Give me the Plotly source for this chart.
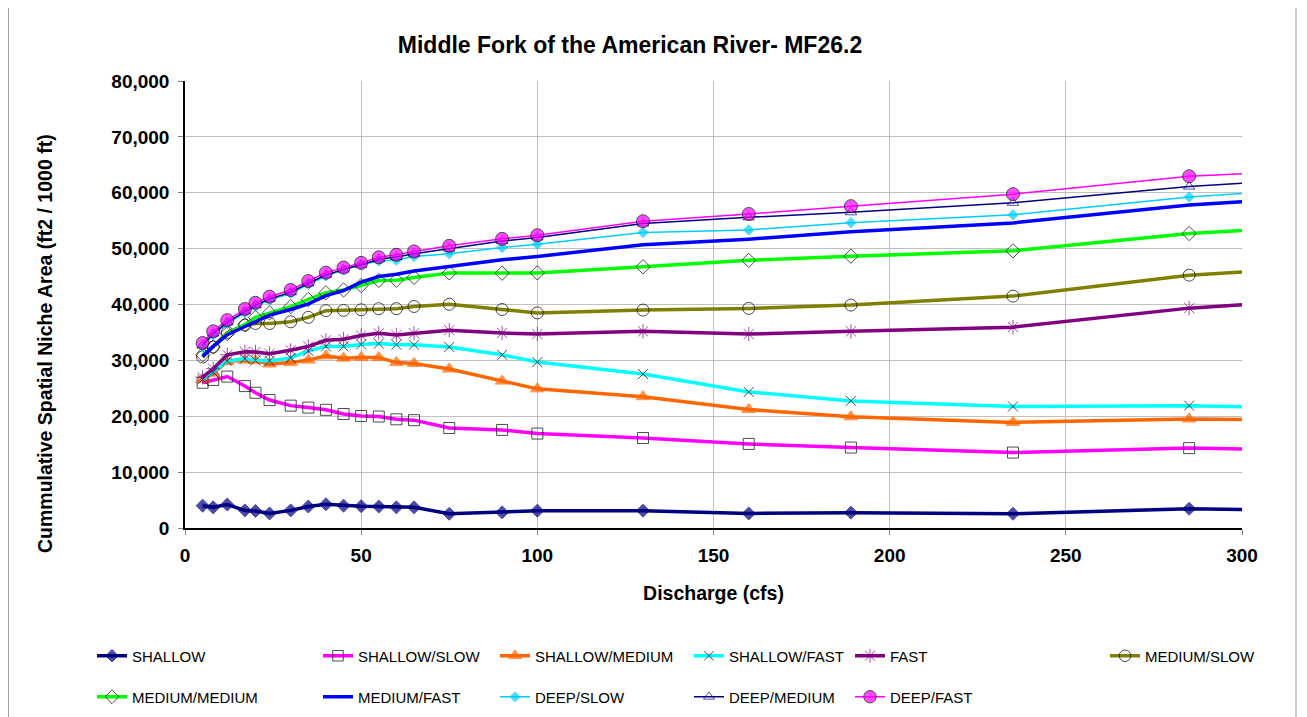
import plotly.graph_objects as go

# discharge (cfs); last value is where the lines meet the right edge of the plot
discharge = [5, 8, 12, 17, 20, 24, 30, 35, 40, 45, 50, 55, 60, 65, 75, 90, 100,
             130, 160, 189, 235, 285, 300]

shallow = [4000, 3700, 4200, 3150, 3050, 2600, 3150, 3850, 4250, 4000, 3900, 3850,
           3700, 3700, 2550, 2800, 3100, 3100, 2600, 2750, 2550, 3450, 3300]
shallow_slow = [26000, 26500, 27100, 25400, 24200, 22900, 21900, 21550, 21150, 20400,
                20050, 19950, 19450, 19300, 17900, 17550, 16900, 16100, 15050, 14400,
                13500, 14300, 14150]
shallow_medium = [26600, 27700, 29800, 30050, 29950, 29350, 29600, 30050, 30800, 30400,
                  30500, 30500, 29600, 29450, 28450, 26300, 24900, 23500, 21200, 19900,
                  18900, 19500, 19400]
shallow_fast = [26600, 27900, 29900, 30300, 30000, 29900, 30450, 31700, 32500, 32500,
                32850, 33000, 32800, 32800, 32400, 31000, 29700, 27550, 24350, 22750,
                21750, 21900, 21700]
fast = [27000, 28500, 31000, 31550, 31500, 31200, 31800, 32500, 33600, 33800, 34450,
        34850, 34550, 34850, 35400, 34900, 34700, 35200, 34700, 35200, 35950, 39350,
        39950]
medium_slow = [30600, 32400, 35000, 36300, 36600, 36600, 36900, 37700, 38900, 38950,
               39050, 39250, 39250, 39650, 40050, 39100, 38500, 39000, 39300, 39900,
               41500, 45250, 45800]
medium_medium = [31000, 32400, 34800, 36400, 37700, 38500, 39600, 40900, 42100, 42600,
                 43400, 44300, 44350, 44850, 45650, 45600, 45650, 46750, 47900, 48650,
                 49600, 52700, 53250]
medium_fast = [30700, 32500, 34600, 36100, 37000, 38100, 39100, 40100, 41600, 42500,
               44000, 45000, 45400, 46000, 46800, 48000, 48600, 50700, 51700, 53000,
               54600, 57800, 58400]
deep_slow = [32500, 34600, 36600, 38600, 39700, 40800, 42000, 43600, 45100, 46250,
             47150, 47800, 47950, 48600, 49100, 50200, 50800, 52900, 53350, 54650,
             56050, 59250, 59850]
deep_medium = [32700, 34800, 36800, 38800, 39900, 41000, 42200, 43800, 45300, 46250,
               47100, 48100, 48500, 49100, 50000, 51350, 52000, 54500, 55600, 56500,
               58200, 61100, 61700]
deep_fast = [33100, 35200, 37200, 39200, 40300, 41400, 42600, 44200, 45700, 46600,
             47450, 48450, 48900, 49500, 50500, 51750, 52400, 54900, 56200, 57600,
             59750, 62950, 63400]

FONT = "Arial, Liberation Sans, sans-serif"

# name, values, line colour, line width, marker symbol, marker size, fill, outline
series = [
    ("SHALLOW", shallow, "#000080", 3.5, "diamond", 10, "#000080", "#000080"),
    ("SHALLOW/SLOW", shallow_slow, "#FF00FF", 3.5, "square-open", 11, "#000000", "#000000"),
    ("SHALLOW/MEDIUM", shallow_medium, "#FF6600", 3.5, "triangle-up", 12, "#FF6600", "#FF6600"),
    ("SHALLOW/FAST", shallow_fast, "#00FFFF", 3.5, "x-thin-open", 10, "#000000", "#000000"),
    ("FAST", fast, "#800080", 3.5, "asterisk-open", 12, "#800080", "#800080"),
    ("MEDIUM/SLOW", medium_slow, "#808000", 3.5, "circle-open", 12, "#000000", "#000000"),
    ("MEDIUM/MEDIUM", medium_medium, "#00FF00", 3.5, "diamond-open", 11, "#000000", "#000000"),
    ("MEDIUM/FAST", medium_fast, "#0000FF", 3.5, None, 0, "#0000FF", "#0000FF"),
    ("DEEP/SLOW", deep_slow, "#00CCFF", 1.5, "diamond", 8, "#00CCFF", "#00CCFF"),
    ("DEEP/MEDIUM", deep_medium, "#000080", 1.5, "triangle-up-open", 10, "#000080", "#000080"),
    ("DEEP/FAST", deep_fast, "#FF00FF", 1.5, "circle", 13, "#FF00FF", "#000000"),
]

# the page body adds an 8px margin, so the figure is 8px smaller and shifted
W, H = 1299, 709
plot_l, plot_r, plot_t, plot_b = 177, 1234, 73, 520
legend_cols = [89, 315, 492, 686, 847, 1102]
legend_rows = [648, 689]

fig = go.Figure()
layout_legends = {}
for i, (name, vals, color, width, symbol, msize, mfill, mline) in enumerate(series):
    key = "legend" if i == 0 else f"legend{i + 1}"
    sizes = [msize] * (len(vals) - 1) + [0]
    mode = "lines" if symbol is None else "lines+markers"
    fig.add_trace(go.Scatter(
        x=discharge,
        y=vals,
        mode=mode,
        name=name,
        legend=key,
        line=dict(color=color, width=width),
        marker=dict(symbol=symbol or "circle", size=sizes, color=mfill,
                    line=dict(color=mline, width=1)),
    ))
    col = legend_cols[i % 6]
    row = legend_rows[i // 6]
    layout_legends[key] = dict(
        x=(col - 5 - plot_l) / (plot_r - plot_l),
        y=(plot_b - row) / (plot_b - plot_t),
        xanchor="left",
        yanchor="middle",
        bgcolor="rgba(0,0,0,0)",
        font=dict(family=FONT, size=15, color="#000000"),
        itemwidth=30,
    )

fig.update_layout(
    width=W,
    height=H,
    margin=dict(l=plot_l, r=W - plot_r, t=plot_t, b=H - plot_b, autoexpand=False),
    paper_bgcolor="white",
    plot_bgcolor="white",
    showlegend=True,
    title=dict(
        text="<b>Middle Fork of the American River- MF26.2</b>",
        x=622 / W,
        xanchor="center",
        y=1 - 37 / H,
        yanchor="middle",
        font=dict(family=FONT, size=23, color="#000000"),
    ),
    xaxis=dict(
        range=[0, 300],
        dtick=50,
        showgrid=True,
        gridcolor="#c0c0c0",
        gridwidth=1,
        showline=True,
        linecolor="#000000",
        linewidth=1.5,
        ticks="outside",
        ticklen=5,
        tickcolor="#808080",
        ticklabelstandoff=4,
        zeroline=False,
        tickfont=dict(family=FONT, size=19, color="#000000", weight="bold"),
        title=dict(text="<b>Discharge (cfs)</b>", standoff=22,
                   font=dict(family=FONT, size=19.5, color="#000000")),
    ),
    yaxis=dict(
        range=[0, 80000],
        dtick=10000,
        tickformat=",d",
        showgrid=True,
        gridcolor="#c0c0c0",
        gridwidth=1,
        showline=True,
        linecolor="#000000",
        linewidth=1.5,
        ticks="outside",
        ticklen=5,
        tickcolor="#808080",
        ticklabelstandoff=5,
        zeroline=False,
        tickfont=dict(family=FONT, size=19, color="#000000", weight="bold"),
    ),
    # y title sits a little below the plot centre in the original
    annotations=[dict(
        text="<b>Cummulative Spatial Niche Area (ft2 / 1000 ft)</b>",
        textangle=-90,
        xref="paper", yref="paper",
        x=(37 - plot_l) / (plot_r - plot_l),
        y=(plot_b - 336) / (plot_b - plot_t),
        xanchor="center", yanchor="middle",
        showarrow=False,
        font=dict(family=FONT, size=19.5, color="#000000"),
    )],
    shapes=[dict(
        type="rect", xref="paper", yref="paper",
        x0=(0.5 - plot_l) / (plot_r - plot_l), x1=(1288 - plot_l) / (plot_r - plot_l),
        y0=(plot_b - 740) / (plot_b - plot_t), y1=(plot_b + 10) / (plot_b - plot_t) + 1.2,
        line=dict(color="#a0a0a0", width=1), layer="below",
    )],
    **layout_legends,
)

fig.write_html("out.html")
